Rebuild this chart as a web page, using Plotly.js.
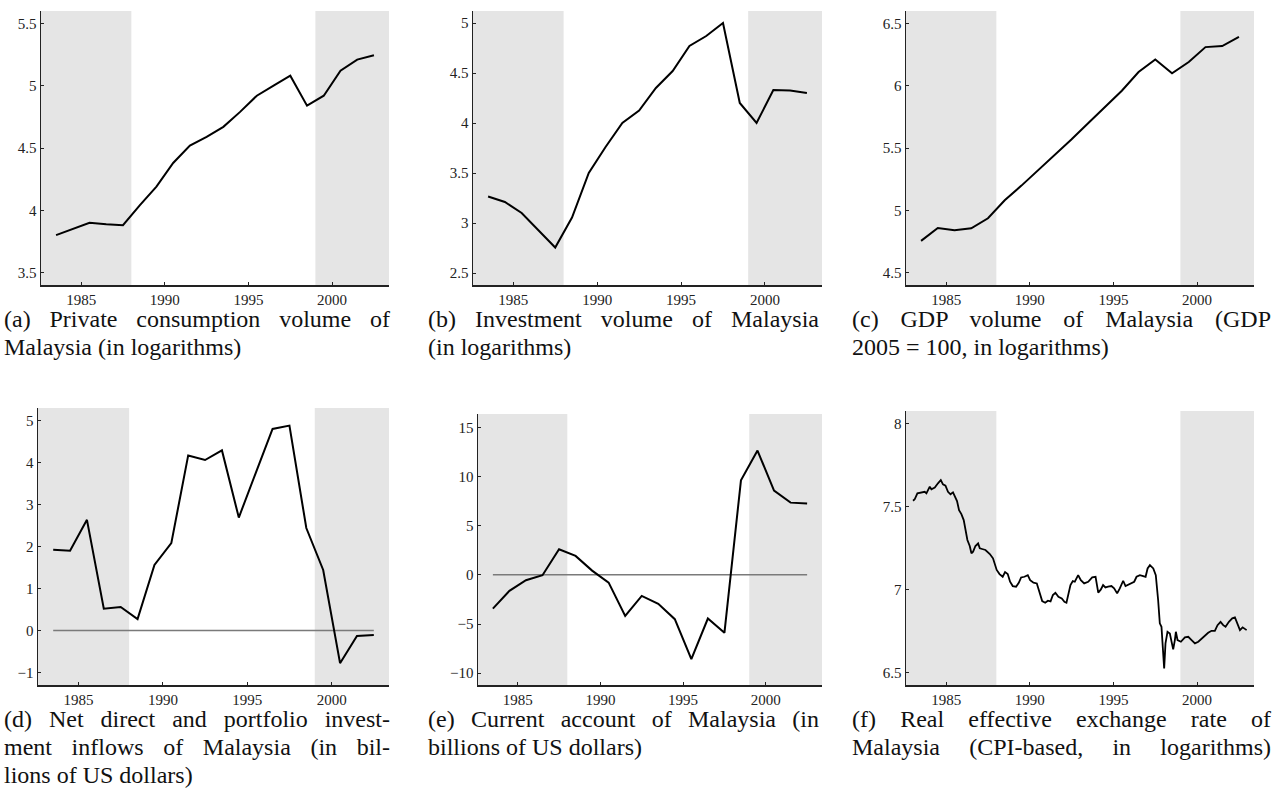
<!DOCTYPE html>
<html><head><meta charset="utf-8">
<script src="https://cdn.plot.ly/plotly-3.0.1.min.js"></script>
<style>html,body{margin:0;padding:0;background:#fff}#chart{width:1272px;height:805px}</style>
</head><body><div id="chart"></div>
<script>
// ---------- data ----------
const years = [1983,1984,1985,1986,1987,1988,1989,1990,1991,1992,1993,1994,1995,1996,1997,1998,1999,2000,2001,2002];
const consumption = [3.80,3.85,3.90,3.888,3.88,4.04,4.19,4.38,4.52,4.59,4.67,4.79,4.92,5.00,5.08,4.84,4.92,5.12,5.21,5.245];
const investment = [3.265,3.21,3.10,2.93,2.755,3.055,3.50,3.76,4.00,4.125,4.35,4.52,4.77,4.87,5.00,4.20,4.00,4.33,4.325,4.30];
const gdp = [4.754,4.858,4.84,4.855,4.936,5.08,5.198,5.32,5.45,5.57,5.70,5.83,5.96,6.11,6.21,6.10,6.19,6.31,6.318,6.393];
const inflows = [1.92,1.90,2.635,0.516,0.56,0.27,1.56,2.08,4.17,4.06,4.29,2.69,3.75,4.80,4.88,2.44,1.44,-0.78,-0.13,-0.11];
const currentAccount = [-3.43,-1.63,-0.55,-0.04,2.60,1.92,0.43,-0.79,-4.17,-2.14,-2.95,-4.51,-8.58,-4.44,-5.90,9.61,12.63,8.56,7.34,7.24];

const reerDates = [1983.02,1983.12,1983.28,1983.52,1983.72,1983.82,1984.02,1984.12,1984.32,1984.51,1984.68,1984.81,1984.96,1985.11,1985.26,1985.41,1985.51,1985.65,1985.77,1985.91,1986.05,1986.17,1986.27,1986.41,1986.51,1986.61,1986.75,1986.91,1987.01,1987.15,1987.35,1987.61,1987.80,
 1988.02,1988.19,1988.38,1988.52,1988.68,1988.82,1988.98,1989.18,1989.34,1989.48,1989.68,1989.88,1990.02,1990.22,1990.42,1990.58,1990.74,1990.92,1991.08,1991.24,1991.38,1991.53,1991.71,1991.91,1992.07,1992.19,1992.31,1992.43,1992.57,
 1992.69,1992.89,1993.05,1993.25,1993.49,1993.73,1993.93,1994.09,1994.25,1994.38,1994.52,1994.68,1994.88,1995.04,1995.22,1995.38,1995.58,1995.72,1995.98,1996.24,1996.38,1996.58,1996.78,1996.92,1997.04,1997.18,1997.38,1997.53,1997.67,1997.77,1997.87,1997.97,1998.03,1998.11,1998.23,1998.37,1998.47,1998.57,1998.67,1998.73,1998.83,1999.03,1999.27,1999.47,1999.67,1999.87,2000.07,2000.27,2000.47,2000.66,2000.86,2001.06,2001.22,2001.40,2001.56,2001.70,2001.90,2002.10,2002.26,2002.40,2002.56,2002.72,2002.86,2002.96];
const reerValues = [7.534,7.543,7.579,7.585,7.588,7.579,7.619,7.603,7.613,7.639,7.659,7.633,7.625,7.588,7.573,7.585,7.558,7.532,7.478,7.454,7.418,7.354,7.298,7.262,7.218,7.228,7.262,7.278,7.248,7.244,7.238,7.214,7.188,
 7.118,7.093,7.077,7.105,7.093,7.047,7.021,7.017,7.041,7.073,7.077,7.087,7.057,7.041,7.037,6.987,6.931,6.921,6.933,6.929,6.967,6.981,6.957,6.947,6.927,6.921,6.967,7.027,7.051,
 7.047,7.087,7.057,7.037,7.047,7.073,7.077,6.981,7.001,7.027,7.013,7.017,7.021,7.007,6.977,7.007,7.053,7.021,7.033,7.047,7.077,7.087,7.081,7.077,7.127,7.147,7.127,7.087,6.937,6.797,6.776,6.636,6.526,6.676,6.746,6.736,6.696,6.640,6.696,6.746,6.696,6.686,6.712,6.716,6.696,6.676,6.686,6.706,6.720,6.740,6.752,6.752,6.786,6.806,6.786,6.776,6.806,6.827,6.833,6.797,6.756,6.773,6.766,6.756];

const xTicks = [1985,1990,1995,2000];
const xRange = [1982.6, 2003.4];
const shadedPeriods = [[1982.6, 1988], [1999, 2003.4]];

const captions = [
  ["(a) Private consumption volume of", "Malaysia (in logarithms)"],
  ["(b) Investment volume of Malaysia", "(in logarithms)"],
  ["(c) GDP volume of Malaysia (GDP", "2005 = 100, in logarithms)"],
  ["(d) Net direct and portfolio invest-", "ment inflows of Malaysia (in bil-", "lions of US dollars)"],
  ["(e) Current account of Malaysia (in", "billions of US dollars)"],
  ["(f) Real effective exchange rate of", "Malaysia (CPI-based, in logarithms)"]
];

// ---------- layout helpers ----------
const W = 1272, H = 805;
const FONT = 'Liberation Serif';
const midYear = years.map(v => v + 0.5);

const panels = [
  {x: midYear, y: consumption, box: [41, 389, 11, 285], yr: [3.4, 5.6], dt: 0.5, zero: false},
  {x: midYear, y: investment, box: [473, 822, 11, 285], yr: [2.38, 5.12], dt: 0.5, zero: false},
  {x: midYear, y: gdp, box: [906, 1254, 11, 285], yr: [4.4, 6.6], dt: 0.5, zero: false},
  {x: midYear, y: inflows, box: [38, 389, 408, 685], yr: [-1.3, 5.3], dt: 1, zero: true},
  {x: midYear, y: currentAccount, box: [478, 822, 414, 685], yr: [-11.2, 16.35], dt: 5, zero: true},
  {x: reerDates, y: reerValues, box: [906, 1254, 411, 685], yr: [6.426, 8.074], dt: 0.5, zero: false, lw: 1.8}
];

const colLeft = [3, 427, 851];
const colRight = [389, 818, 1270];
const lineY = [[319, 347, 375], [719, 747, 775]];

const data = [];
const shapes = [];
const annotations = [];
const layout = {
  width: W, height: H,
  margin: {l: 0, r: 0, t: 0, b: 0},
  paper_bgcolor: '#fff', plot_bgcolor: 'rgba(0,0,0,0)',
  showlegend: false,
  font: {family: FONT, color: '#222'},
  shapes: shapes, annotations: annotations
};

panels.forEach((p, i) => {
  const n = i === 0 ? '' : String(i + 1);
  const [l, r, t, b] = p.box;
  data.push({
    type: 'scatter', mode: 'lines', x: p.x, y: p.y,
    xaxis: 'x' + n, yaxis: 'y' + n,
    line: {color: '#000', width: p.lw || 2}, hoverinfo: 'skip'
  });
  layout['xaxis' + n] = {
    domain: [l / W, r / W], range: xRange, anchor: 'y' + n,
    tickmode: 'array', tickvals: xTicks,
    ticks: 'inside', ticklen: 3, tickwidth: 1, tickcolor: '#222',
    showline: true, linecolor: '#222', linewidth: 1.5,
    showgrid: false, zeroline: false,
    tickfont: {family: FONT, size: 15, color: '#222'}
  };
  layout['yaxis' + n] = {
    domain: [1 - b / H, 1 - t / H], range: p.yr, anchor: 'x' + n,
    tick0: 0, dtick: p.dt,
    ticks: 'inside', ticklen: 3, tickwidth: 1, tickcolor: '#222',
    showline: true, linecolor: '#222', linewidth: 1.5,
    showgrid: false, zeroline: false,
    tickfont: {family: FONT, size: 15, color: '#222'}
  };
  shadedPeriods.forEach(sp => {
    shapes.push({type: 'rect', xref: 'x' + n, yref: 'y' + n + ' domain',
      x0: sp[0], x1: sp[1], y0: 0, y1: 1,
      fillcolor: '#e5e5e5', line: {width: 0}, layer: 'below'});
  });
  if (p.zero) {
    shapes.push({type: 'line', xref: 'x' + n, yref: 'y' + n,
      x0: p.x[0], x1: p.x[p.x.length - 1], y0: 0, y1: 0,
      line: {color: '#7a7a7a', width: 1.5}, layer: 'below'});
  }
  // captions
  const col = i % 3, row = Math.floor(i / 3);
  captions[i].forEach((txt, k) => {
    const last = k === captions[i].length - 1;
    annotations.push({
      xref: 'paper', yref: 'paper',
      x: colLeft[col] / W, y: 1 - lineY[row][k] / H,
      xanchor: 'left', yanchor: 'middle', align: 'left',
      showarrow: false, borderpad: 0,
      text: txt,
      font: {family: FONT, size: 24, color: '#111'},
      _justify: (!last || i === 5) ? colRight[col] - colLeft[col] : 0
    });
  });
});

const justifyWidths = annotations.map(a => a._justify);
annotations.forEach(a => delete a._justify);

Plotly.newPlot('chart', data, layout, {displayModeBar: false, staticPlot: true}).then(gd => {
  const groups = gd.querySelectorAll('g.annotation');
  groups.forEach(g => {
    const idx = +g.getAttribute('data-index');
    const target = justifyWidths[idx];
    if (!target) return;
    const t = g.querySelector('text.annotation-text');
    if (!t) return;
    const natural = t.getComputedTextLength();
    const spaces = (t.textContent.match(/ /g) || []).length;
    if (spaces > 0) t.style.wordSpacing = ((target - natural) / spaces) + 'px';
  });
});
</script>
</body></html>
